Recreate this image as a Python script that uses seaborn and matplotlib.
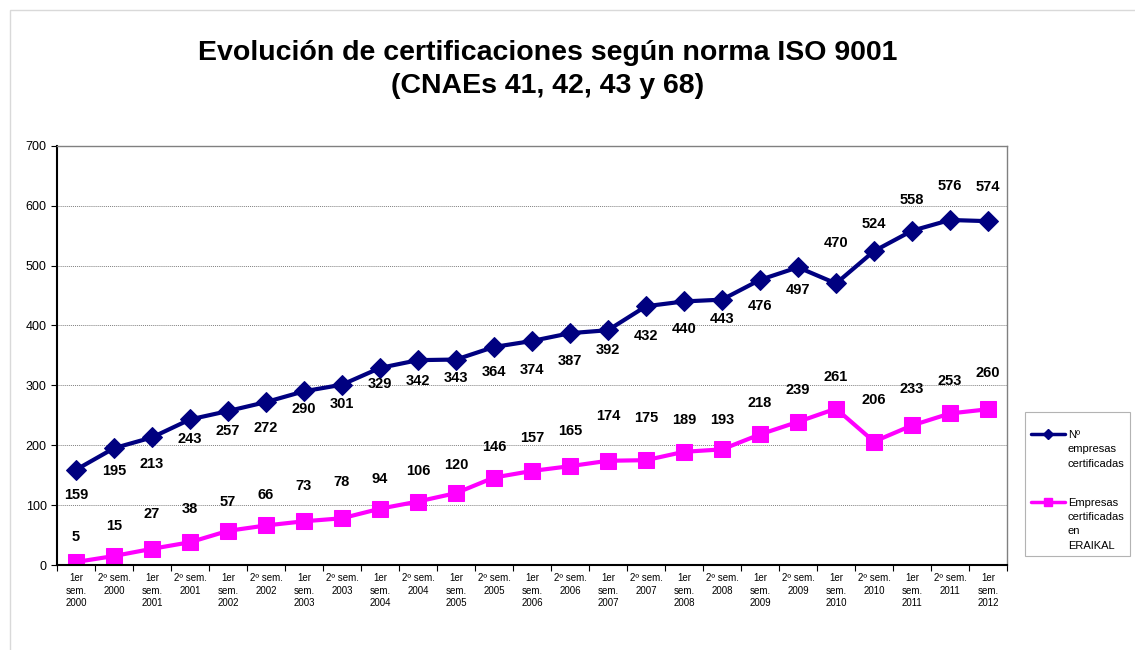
#!/usr/bin/env python3
# -*- coding: utf-8 -*-
"""
Evolución de certificaciones ISO 9001, CNAEs 41, 42, 43 y 68.
"""
import matplotlib
matplotlib.use("Agg")
import matplotlib.pyplot as plt
import numpy as np
import pandas as pd
import seaborn as sns
from matplotlib.lines import Line2D
from matplotlib.patches import Rectangle

# datos
periodos = [
    "1er\nsem.\n2000", "2º sem.\n2000", "1er\nsem.\n2001", "2º sem.\n2001",
    "1er\nsem.\n2002", "2º sem.\n2002", "1er\nsem.\n2003", "2º sem.\n2003",
    "1er\nsem.\n2004", "2º sem.\n2004", "1er\nsem.\n2005", "2º sem.\n2005",
    "1er\nsem.\n2006", "2º sem.\n2006", "1er\nsem.\n2007", "2º sem.\n2007",
    "1er\nsem.\n2008", "2º sem.\n2008", "1er\nsem.\n2009", "2º sem.\n2009",
    "1er\nsem.\n2010", "2º sem.\n2010", "1er\nsem.\n2011", "2º sem.\n2011",
    "1er\nsem.\n2012",
]
empresas = [159, 195, 213, 243, 257, 272, 290, 301, 329, 342, 343, 364, 374,
            387, 392, 432, 440, 443, 476, 497, 470, 524, 558, 576, 574]
eraikal = [5, 15, 27, 38, 57, 66, 73, 78, 94, 106, 120, 146, 157,
           165, 174, 175, 189, 193, 218, 239, 261, 206, 233, 253, 260]
nombre_empresas = ["Nº", "empresas", "certificadas"]
nombre_eraikal = ["Empresas", "certificadas", "en", "ERAIKAL"]
yticks = [0, 100, 200, 300, 400, 500, 600, 700]

# desplazamiento de etiquetas (pixeles, + hacia abajo), como en el original
dy_empresas = [25, 23, 27, 20, 20, 26, 18, 19, 16, 21, 18, 25, 29, 28, 20, 30,
               28, 19, 26, 23, -40, -27, -31, -34, -34]
dy_eraikal = [-25, -30, -35, -33, -29, -30, -35, -36, -30, -31, -28, -31, -33,
              -35, -45, -42, -32, -29, -31, -32, -32, -42, -36, -32, -36]

AZUL = "#000080"
ROSA = "#FF00FF"

sns.set_style("white")
plt.rcParams["font.family"] = ["Liberation Sans", "DejaVu Sans"]
plt.rcParams["text.color"] = "black"
plt.rcParams["xtick.color"] = "black"
plt.rcParams["ytick.color"] = "black"

df = pd.DataFrame({"pos": np.arange(len(periodos)),
                   "empresas": empresas, "eraikal": eraikal})

fig = plt.figure(figsize=(11.35, 6.5), dpi=100, facecolor="white")
fig.add_artist(Rectangle((10 / 1135, -0.01), 1.1, 640 / 650 + 0.01,
                         transform=fig.transFigure, fill=False,
                         edgecolor="#d9d9d9", lw=1))
ax = fig.add_axes([57 / 1135, 85 / 650, 950 / 1135, 419.3 / 650])

sns.lineplot(data=df, x="pos", y="empresas", ax=ax, color=AZUL, lw=3,
             marker="D", markersize=10, markeredgecolor=AZUL, legend=False)
sns.lineplot(data=df, x="pos", y="eraikal", ax=ax, color=ROSA, lw=3,
             marker="s", markersize=12, markeredgecolor=ROSA, legend=False)

for i, v in enumerate(empresas):
    ax.annotate(str(v), (i, v), xytext=(0, -dy_empresas[i]),
                textcoords="offset pixels", ha="center", va="center",
                fontsize=10.5, fontweight="bold")
for i, v in enumerate(eraikal):
    ax.annotate(str(v), (i, v), xytext=(0, -dy_eraikal[i]),
                textcoords="offset pixels", ha="center", va="center",
                fontsize=10.5, fontweight="bold")

ax.set_xlim(-0.5, len(periodos) - 0.5)
ax.set_ylim(0, 700)
ax.set_yticks(yticks)
ax.tick_params(axis="y", labelsize=9, length=4, direction="out", left=True,
               width=0.8, color="black")
ax.set_xticks(np.arange(len(periodos)))
ax.set_xticklabels(periodos, fontsize=7, linespacing=1.3)
ax.tick_params(axis="x", which="major", length=0, pad=6)
ax.set_xticks(np.arange(len(periodos) + 1) - 0.5, minor=True)
ax.tick_params(axis="x", which="minor", length=4, direction="out",
               bottom=True, width=0.8, color="black")
ax.set_xlabel("")
ax.set_ylabel("")
ax.yaxis.grid(True, linestyle=(0, (1, 1)), color="#808080", lw=0.7)
ax.set_axisbelow(True)
for s in ["left", "bottom"]:
    ax.spines[s].set_color("black")
    ax.spines[s].set_linewidth(1.5)
for s in ["top", "right"]:
    ax.spines[s].set_color("#808080")
    ax.spines[s].set_linewidth(1)

# leyenda: la línea va junto a la primera línea del texto
vacio = Line2D([], [], alpha=0)
h_azul = Line2D([], [], color=AZUL, lw=2.5, marker="D", markersize=5)
h_rosa = Line2D([], [], color=ROSA, lw=2.5, marker="s", markersize=6)
handles = ([vacio, h_azul] + [vacio] * (len(nombre_empresas) - 1)
           + [vacio] * 2 + [h_rosa] + [vacio] * (len(nombre_eraikal) - 1))
labels = [" "] + nombre_empresas + [" "] * 2 + nombre_eraikal
leg = ax.legend(handles, labels, loc="upper left",
                bbox_to_anchor=(1025 / 1135, 1 - 412 / 650),
                bbox_transform=fig.transFigure, fontsize=8, frameon=True,
                fancybox=False, edgecolor="#a0a0a0", handlelength=3.1,
                handleheight=0.4, handletextpad=0.25, labelspacing=0.4,
                borderpad=0.5, borderaxespad=0)
leg.get_frame().set_linewidth(0.8)
for t in leg.get_texts():
    if t.get_text() == " ":
        t.set_fontsize(4)

fig.text(548 / 1135, 1 - 69.5 / 650,
         "Evolución de certificaciones según norma ISO 9001\n(CNAEs 41, 42, 43 y 68)",
         ha="center", va="center", fontsize=20.5, fontweight="bold",
         linespacing=1.35)

plt.savefig("out.png", dpi=100)
